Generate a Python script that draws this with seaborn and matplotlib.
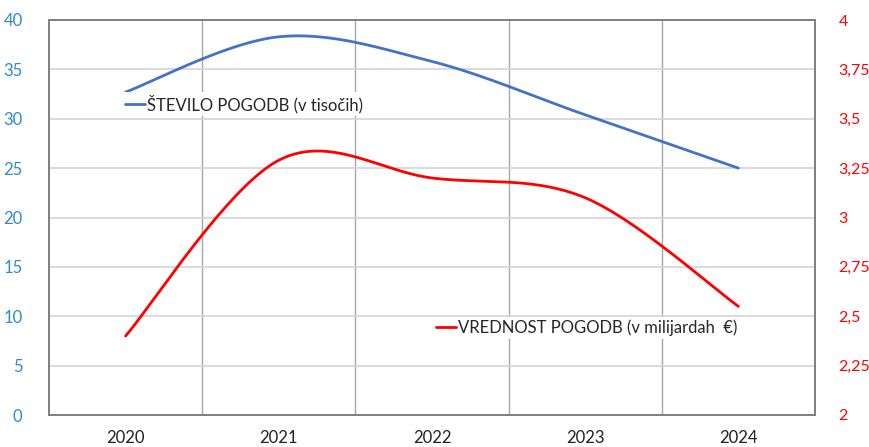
import numpy as np
import pandas as pd
import matplotlib
matplotlib.use('Agg')
import matplotlib.pyplot as plt
import seaborn as sns
from matplotlib.ticker import FixedLocator, FuncFormatter

# Data
years = ['2020', '2021', '2022', '2023', '2024']
contracts_k = [32.7, 38.3, 35.8, 30.4, 25.0]      # ŠTEVILO POGODB (v tisočih)
value_bn = [2.40, 3.29, 3.20, 3.10, 2.55]         # VREDNOST POGODB (v milijardah €)

blue = '#4472C4'
red = '#FF0000'


def smooth(xs, ys, n=40):
    # Excel-style smoothed line (Catmull-Rom style cubic Bezier segments)
    pts = np.column_stack([xs, ys]).astype(float)
    ext = np.vstack([pts[0], pts, pts[-1]])
    out = []
    for i in range(len(pts) - 1):
        p0, p1 = ext[i + 1], ext[i + 2]
        c1 = p0 + (ext[i + 2] - ext[i]) / 6
        c2 = p1 - (ext[i + 3] - ext[i + 1]) / 6
        t = np.linspace(0, 1, n)[:, None]
        seg = (1 - t) ** 3 * p0 + 3 * (1 - t) ** 2 * t * c1 + 3 * (1 - t) * t ** 2 * c2 + t ** 3 * p1
        out.append(seg if i == 0 else seg[1:])
    s = np.vstack(out)
    return s[:, 0], s[:, 1]


xpos = np.arange(len(years))
bx, by = smooth(xpos, contracts_k)
rx, ry = smooth(xpos, value_bn)
df_blue = pd.DataFrame({'x': bx, 'y': by})
df_red = pd.DataFrame({'x': rx, 'y': ry})

sns.set_style('white')
plt.rcParams['font.family'] = ['Lato', 'DejaVu Sans']

fig = plt.figure(figsize=(8.69, 4.47), dpi=100)
ax = fig.add_axes([49 / 869, 1 - 415 / 447, 766 / 869, 395 / 447])
ax2 = ax.twinx()

sns.lineplot(data=df_blue, x='x', y='y', ax=ax, color=blue, lw=2.0, sort=False,
             label='ŠTEVILO POGODB (v tisočih)', legend=False)
sns.lineplot(data=df_red, x='x', y='y', ax=ax2, color=red, lw=2.0, sort=False,
             label='VREDNOST POGODB (v milijardah  €)', legend=False)

ax.set_xlim(-0.5, len(years) - 0.5)
ax.set_ylim(0, 40)
ax2.set_ylim(2, 4)
ax.set_yticks(np.arange(0, 41, 5))
ax2.set_yticks(np.arange(2, 4.01, 0.25))
ax2.yaxis.set_major_formatter(FuncFormatter(lambda v, p: f'{v:g}'.replace('.', ',')))
ax.set_xticks(xpos)
ax.set_xticklabels(years)
ax.xaxis.set_minor_locator(FixedLocator(xpos[:-1] + 0.5))

ax.grid(axis='y', which='major', color='#D4D4D4', lw=1.2)
ax.grid(axis='x', which='minor', color='#A6A6A6', lw=1.0)
ax.set_axisbelow(True)
ax.set_xlabel('')
ax.set_ylabel('')
ax2.set_xlabel('')
ax2.set_ylabel('')

for a in (ax, ax2):
    for sp in a.spines.values():
        sp.set_visible(True)
        sp.set_color('#7F7F7F')
        sp.set_linewidth(1.2)

ax.tick_params(axis='y', length=0, pad=19, labelsize=12, labelcolor='#2E8BC9')
ax.tick_params(axis='x', which='both', length=0, pad=11, labelsize=12, labelcolor='#222222')
ax2.tick_params(axis='y', length=0, pad=17, labelsize=11.5, labelcolor=red)

ax.legend(loc='center left', bbox_to_anchor=(122 / 869, 1 - 104 / 447),
          bbox_transform=fig.transFigure, frameon=True, fontsize=12,
          handlelength=1.2, handletextpad=0.15, borderpad=0.15, borderaxespad=0,
          fancybox=False, edgecolor='none', facecolor='white', framealpha=1)
ax2.legend(loc='center left', bbox_to_anchor=(433 / 869, 1 - 328 / 447),
           bbox_transform=fig.transFigure, frameon=True, fontsize=12,
           handlelength=1.2, handletextpad=0.15, borderpad=0.15, borderaxespad=0,
           fancybox=False, edgecolor='none', facecolor='white', framealpha=1)

fig.savefig('out.png', dpi=100)
